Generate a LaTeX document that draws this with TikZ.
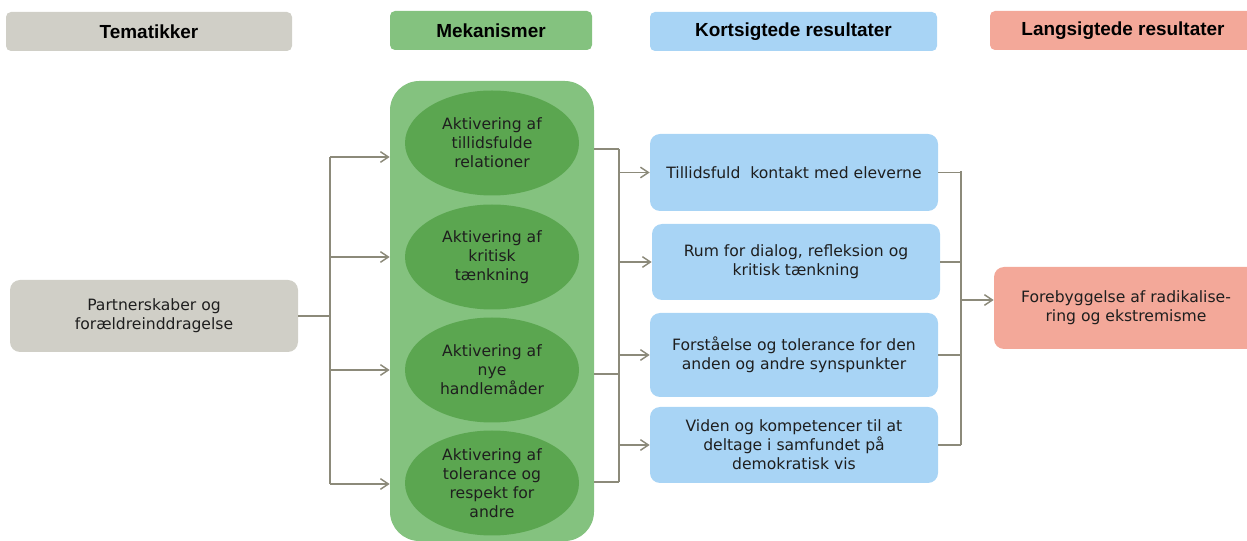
\documentclass[tikz,border=0pt]{standalone}
\usepackage{fontspec}
\setmainfont{DejaVu Sans}
\newfontfamily\headfont{Liberation Sans}
\usetikzlibrary{arrows.meta,shapes.geometric}
\definecolor{cgray}{RGB}{208,207,199}
\definecolor{cgreen}{RGB}{132,194,127}
\definecolor{cdgreen}{RGB}{91,166,80}
\definecolor{cblue}{RGB}{168,212,245}
\definecolor{csalmon}{RGB}{243,168,153}
\definecolor{cline}{RGB}{140,138,122}
\definecolor{ctext}{RGB}{30,30,30}
\tikzset{
  head/.style={rounded corners=3.75pt, minimum height=29.25pt, inner sep=0pt, font=\headfont\bfseries\fontsize{14.2}{16}\selectfont, text=black},
  body/.style={rounded corners=7.5pt, inner sep=0pt, align=center, text=ctext, font=\fontsize{11.7}{14.25}\selectfont},
  ell/.style={ellipse, fill=cdgreen, minimum width=130.5pt, minimum height=78.75pt, inner sep=0pt, align=center, text=ctext, font=\fontsize{11.7}{14.25}\selectfont},
  conn/.style={draw=cline, line width=1.1pt},
  arr/.style={conn, -{Straight Barb[length=6pt,width=8pt,line width=1.1pt]}},
}
\begin{document}
\begin{tikzpicture}[x=0.75pt,y=-0.75pt]
\useasboundingbox (0,0) rectangle (1247,541);
\clip (0,0) rectangle (1247,541);
% headers
\node[head, fill=cgray, minimum width=214.5pt] (h1) at (149,31.5) {Tematikker};
\node[head, fill=cgreen, minimum width=151.5pt] (h2) at (491,30.5) {Mekanismer};
\node[head, fill=cblue, minimum width=215.25pt] (h3) at (793.5,31.5) {Kortsigtede resultater};
\node[head, fill=csalmon, minimum width=199.5pt] (h4) at (1123,30.5) {Langsigtede resultater};
% left box
\node[body, fill=cgray, minimum width=216pt, minimum height=54pt] (lb) at (154,316) {Partnerskaber og\\forældreinddragelse};
% big green box
\node[fill=cgreen, rounded corners=22pt, minimum width=153pt, minimum height=345pt, inner sep=0pt] (big) at (492,311) {};
\node[ell] (e1) at (492,143) {Aktivering af\\tillidsfulde\\relationer};
\node[ell] (e2) at (492,257) {Aktivering af\\kritisk\\tænkning};
\node[ell] (e3) at (492,370) {Aktivering af\\nye\\handlemåder};
\node[ell] (e4) at (492,483) {Aktivering af\\tolerance og\\respekt for\\andre};
% blue boxes
\node[body, fill=cblue, minimum width=216pt, minimum height=57.75pt] (b1) at (794,172.5) {Tillidsfuld\ \ kontakt med eleverne};
\node[body, fill=cblue, minimum width=216pt, minimum height=57pt] (b2) at (796,262) {Rum for dialog, refleksion og\\kritisk tænkning};
\node[body, fill=cblue, minimum width=216pt, minimum height=63pt] (b3) at (794,355) {Forståelse og tolerance for den\\anden og andre synspunkter};
\node[body, fill=cblue, minimum width=216pt, minimum height=57pt] (b4) at (794,445) {Viden og kompetencer til at\\deltage i samfundet på\\demokratisk vis};
% salmon box
\node[body, fill=csalmon, minimum width=198pt, minimum height=61.5pt] (sb) at (1126,308) {Forebyggelse af radikalise-\\ring og ekstremisme};
% left connectors
\coordinate (lj) at (330,316);
\coordinate (la1) at (330,157);
\coordinate (la2) at (330,257);
\coordinate (la3) at (330,370);
\coordinate (la4) at (330,484);
\draw[conn] (lb.east |- lj) -- (lj);
\draw[conn] (la1) -- (la4);
\foreach \c in {la1,la2,la3,la4} \draw[arr] (\c) -- (\c -| big.west);
% middle connectors
\coordinate (m1) at (619,149);
\coordinate (m3) at (619,374);
\coordinate (m4) at (619,482);
\foreach \c in {m1,m3,m4} \draw[conn] (\c -| big.east) -- (\c);
\draw[conn] (m1) -- (m4);
\foreach \b in {b1,b2,b3,b4} \draw[arr] (m1 |- \b.west) -- (\b.west);
% right connectors
\coordinate (r1) at (961,171);
\coordinate (r4) at (961,445);
\coordinate (ra) at (961,300);
\foreach \b in {b1,b2,b3,b4} \draw[conn] (\b.east) -- (r1 |- \b.east);
\draw[conn] (r1) -- (r4);
\draw[arr] (ra) -- (ra -| sb.west);
\end{tikzpicture}
\end{document}
